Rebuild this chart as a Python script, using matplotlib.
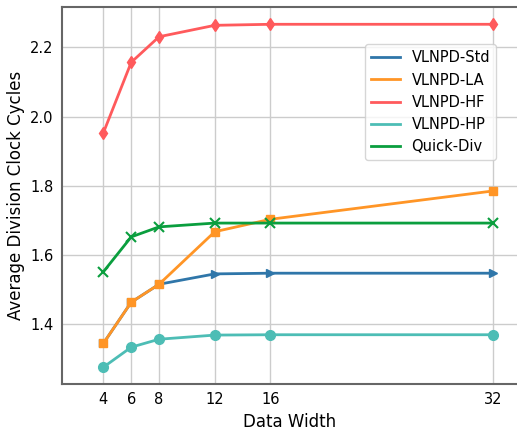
import matplotlib
matplotlib.use("Agg")
import matplotlib.pyplot as plt
from matplotlib.lines import Line2D

# data
widths = [4, 6, 8, 12, 16, 32]
std = [1.344, 1.463, 1.515, 1.545, 1.547, 1.547]
la = [1.344, 1.463, 1.515, 1.667, 1.703, 1.785]
hf = [1.953, 2.157, 2.231, 2.264, 2.267, 2.267]
hp = [1.275, 1.333, 1.356, 1.368, 1.369, 1.369]
quick = [1.551, 1.652, 1.681, 1.692, 1.692, 1.692]

names = ["VLNPD-Std", "VLNPD-LA", "VLNPD-HF", "VLNPD-HP", "Quick-Div"]
colors = ["#2f76a9", "#ff9526", "#ff5a5c", "#4dbdb5", "#0a9e3e"]

fig = plt.figure(figsize=(5.17, 4.30), dpi=100)
ax = fig.add_axes([62 / 517, 46 / 430, 455 / 517, 377 / 430])

ax.plot(widths, std, marker=">", color=colors[0], lw=2, ms=6)
ax.plot(widths, la, marker="s", color=colors[1], lw=2, ms=6)
ax.plot(widths, hf, marker="d", color=colors[2], lw=2, ms=6)
ax.plot(widths, hp, marker="o", color=colors[3], lw=2, ms=7)
ax.plot(widths, quick, marker="x", color=colors[4], lw=2, ms=7, mew=1.5)

ax.set_xticks(widths)
ax.set_yticks([1.4, 1.6, 1.8, 2.0, 2.2])
ax.set_xlim(1.03, 33.7)
ax.set_ylim(1.2265, 2.317)
ax.grid(True, color="#cccccc", lw=1)
ax.set_axisbelow(True)
ax.tick_params(length=0, labelsize=10.5, pad=6)
for s in ["left", "top", "bottom"]:
    ax.spines[s].set_color("#666666")
    ax.spines[s].set_linewidth(1.5)
ax.spines["right"].set_visible(False)

ax.set_xlabel("Data Width", fontsize=12)
ax.set_ylabel("Average Division Clock Cycles", fontsize=12)

# legend shows plain lines only
handles = [Line2D([], [], color=c, lw=2) for c in colors]
ax.legend(handles, names, loc="upper right", bbox_to_anchor=(0.97, 0.92), fontsize=10.5)

fig.savefig("out.png", dpi=100)
